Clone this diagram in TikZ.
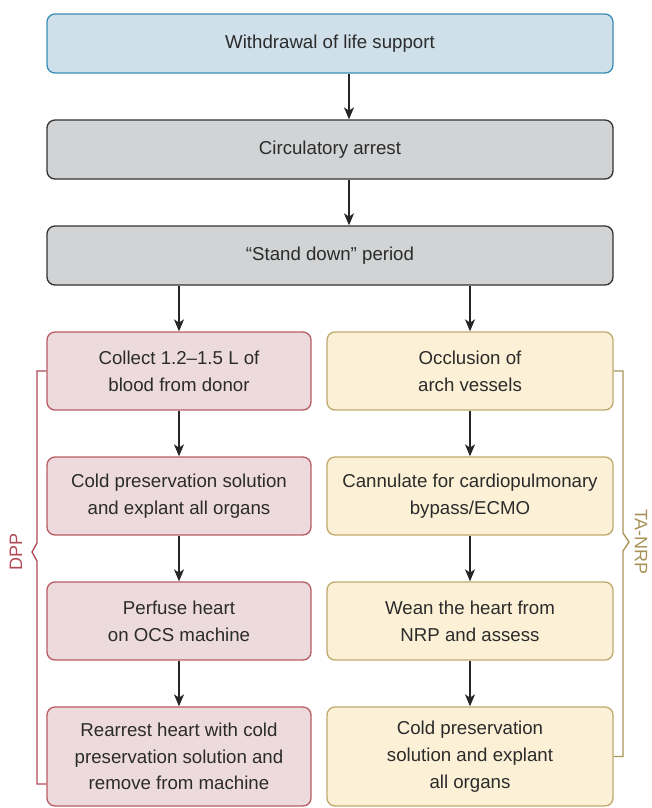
\documentclass[tikz,border=0pt]{standalone}
\usepackage{fontspec}
\setmainfont{Liberation Sans}
\usetikzlibrary{arrows.meta}
\definecolor{bluefill}{HTML}{CFE0EB}
\definecolor{blueline}{HTML}{3A8DB5}
\definecolor{grayfill}{HTML}{D1D3D4}
\definecolor{grayline}{HTML}{333333}
\definecolor{pinkfill}{HTML}{EDDADC}
\definecolor{pinkline}{HTML}{B85C63}
\definecolor{yelfill}{HTML}{FCF1D6}
\definecolor{yelline}{HTML}{BFA96E}
\definecolor{txt}{HTML}{2B2B2B}
\definecolor{dppcol}{HTML}{B04A55}
\definecolor{tacol}{HTML}{A89257}
\tikzset{
  box/.style={rounded corners=6pt, line width=1pt, align=center, text=txt,
    font=\fontsize{14}{20}\selectfont, inner sep=0pt},
  wide/.style={box, minimum width=0.75*566pt, minimum height=0.75*59pt},
  col/.style={box, minimum height=0.75*78pt},
  lcol/.style={col, minimum width=0.75*264pt, fill=pinkfill, draw=pinkline},
  rcol/.style={col, minimum width=0.75*286pt, fill=yelfill, draw=yelline},
  arr/.style={line width=1pt, draw=black!85, -{Stealth[length=9pt,width=7.5pt,inset=2.5pt]}},
  brace/.style={line width=1pt},
  lbl/.style={font=\fontsize{13.5}{16}\selectfont}
}
\begin{document}
\begin{tikzpicture}[x=0.75pt,y=-0.75pt]
\path[use as bounding box] (0,0) rectangle (651,808);
\node[wide, fill=bluefill, draw=blueline] (b1) at (330,43.5) {Withdrawal of life support};
\node[wide, fill=grayfill, draw=grayline] (b2) at (330,149.5) {Circulatory arrest};
\node[wide, fill=grayfill, draw=grayline] (b3) at (330,255.5) {“Stand down” period};
\coordinate (tx) at (349,0);
\node[lcol] (l1) at (179,371) {Collect 1.2–1.5 L of\\blood from donor};
\node[lcol] (l2) at (179,496) {Cold preservation solution\\and explant all organs};
\node[lcol] (l3) at (179,621) {Perfuse heart\\on OCS machine};
\node[lcol, minimum height=0.75*99pt] (l4) at (179,756.5) {Rearrest heart with cold\\preservation solution and\\remove from machine};
\node[rcol] (r1) at (470,371) {Occlusion of\\arch vessels};
\node[rcol] (r2) at (470,496) {Cannulate for cardiopulmonary\\bypass/ECMO};
\node[rcol] (r3) at (470,621) {Wean the heart from\\NRP and assess};
\node[rcol, minimum height=0.75*99pt] (r4) at (470,756.5) {Cold preservation\\solution and explant\\all organs};
\draw[arr] (b1.south -| tx) -- (b2.north -| tx);
\draw[arr] (b2.south -| tx) -- (b3.north -| tx);
\draw[arr] (b3.south -| l1) -- (l1.north);
\draw[arr] (b3.south -| r1) -- (r1.north);
\draw[arr] (l1) -- (l2);
\draw[arr] (l2) -- (l3);
\draw[arr] (l3) -- (l4);
\draw[arr] (r1) -- (r2);
\draw[arr] (r2) -- (r3);
\draw[arr] (r3) -- (r4);
% braces
\coordinate (lb) at (l4.west |- 0,784);
\draw[brace, draw=dppcol] (l1.west) -- (37,371) -- (37,543) -- (32,552) -- (37,561) -- (37,784) -- (lb);
\draw[brace, draw=tacol] (r1.east) -- (623,371) -- (623,533) -- (629,542) -- (623,551) -- (623,756.5) -- (r4.east);
\node[lbl, text=dppcol, rotate=90] (dpp) at (16,552) {DPP};
\node[lbl, text=tacol, rotate=-90] (ta) at (641,542) {TA-NRP};
\end{tikzpicture}
\end{document}
